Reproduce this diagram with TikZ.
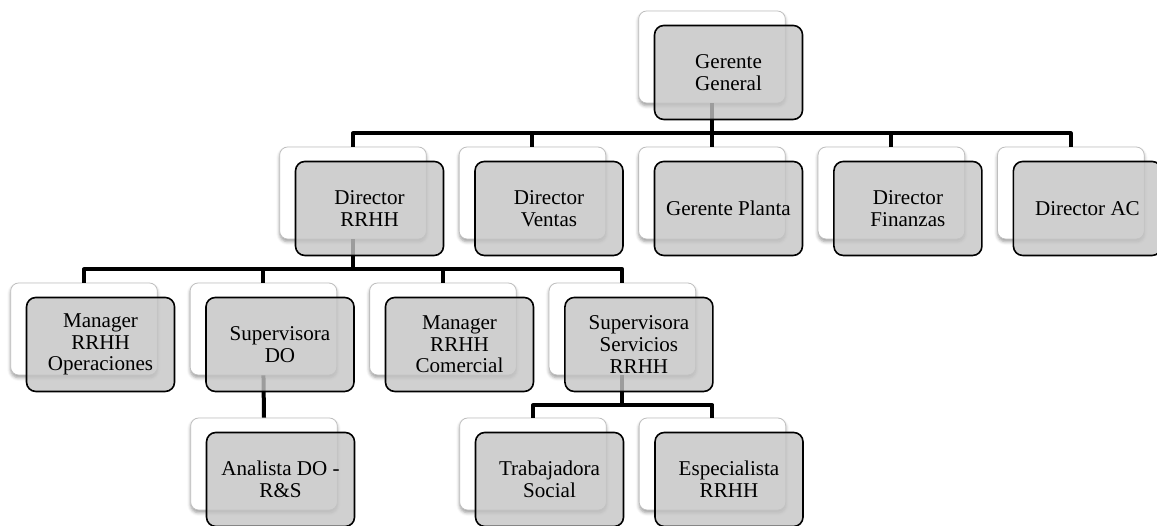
\documentclass[tikz,border=0pt]{standalone}
\usepackage{fontspec}
\setmainfont{Liberation Serif}
\usepackage{tikz}
\usetikzlibrary{shadows.blur}
\usetikzlibrary{positioning}

\begin{document}
\begin{tikzpicture}[x=0.75pt, y=-0.75pt,
        back/.style={rectangle, rounded corners=6pt, draw=black!25, fill=white, line width=0.6pt, minimum width=110pt, minimum height=69pt, blur shadow={shadow xshift=0pt, shadow yshift=-2pt, shadow blur radius=2.5pt, shadow opacity=40}},
        front/.style={rectangle, rounded corners=7pt, draw=black, line width=1.2pt, fill=black!23, fill opacity=0.8, text opacity=1, minimum width=111pt, minimum height=70.5pt, align=center, inner sep=2pt, font=\fontsize{15.8}{16.3}\selectfont},
        link/.style={line width=3pt, line join=round}
      ]
        \useasboundingbox (0,0) rectangle (1157,525);

        % back boxes
        \node[back]  (gg)     at (712,57)  {};
        \node[back]  (rrhh)   at (353,193) {};
        \node[back]  (ventas)   [right=24pt of rrhh]    {};
        \node[back]  (planta)   [right=24pt of ventas]  {};
        \node[back]  (finanzas) [right=24pt of planta]  {};
        \node[back]  (ac)       [right=24pt of finanzas] {};
        \node[back]  (oper)   at (84,329)  {};
        \node[back]  (supdo)     [right=24pt of oper]      {};
        \node[back]  (comercial) [right=24pt of supdo]     {};
        \node[back]  (servicios) [right=24pt of comercial] {};
        \node[back]  (analista)    at (264,464) {};
        \node[back]  (trabajadora) at (533,464) {};
        \node[back]  (especialista) [right=24pt of trabajadora] {};

        % connectors
        \draw[link] (gg.south) -- ++(0,30) -| (rrhh.north);
        \draw[link] (gg.south) -- ++(0,30) -| (ventas.north);
        \draw[link] (gg.south) -- ++(0,30) -| (planta.north);
        \draw[link] (gg.south) -- ++(0,30) -| (finanzas.north);
        \draw[link] (gg.south) -- ++(0,30) -| (ac.north);
        \draw[link] (rrhh.south) -- ++(0,30) -| (oper.north);
        \draw[link] (rrhh.south) -- ++(0,30) -| (supdo.north);
        \draw[link] (rrhh.south) -- ++(0,30) -| (comercial.north);
        \draw[link] (rrhh.south) -- ++(0,30) -| (servicios.north);
        \draw[link] (supdo.south) -- (analista.north);
        \draw[link] (servicios.south) -- ++(0,30) -| (trabajadora.north);
        \draw[link] (servicios.south) -- ++(0,30) -| (especialista.north);

        % front boxes
        \node[front] (ggF)       at ([xshift=12.4pt,yshift=-11.6pt]gg)       {Gerente\\General};
        \node[front] (rrhhF)     at ([xshift=12.4pt,yshift=-11.6pt]rrhh)     {Director\\RRHH};
        \node[front] (ventasF)   at ([xshift=12.4pt,yshift=-11.6pt]ventas)   {Director\\Ventas};
        \node[front] (plantaF)   at ([xshift=12.4pt,yshift=-11.6pt]planta)   {Gerente Planta};
        \node[front] (finanzasF) at ([xshift=12.4pt,yshift=-11.6pt]finanzas) {Director\\Finanzas};
        \node[front] (acF)       at ([xshift=12.4pt,yshift=-11.6pt]ac)       {Director AC};
        \node[front] (operF)      at ([xshift=12.4pt,yshift=-11.6pt]oper)      {Manager\\RRHH\\Operaciones};
        \node[front] (supdoF)     at ([xshift=12.4pt,yshift=-11.6pt]supdo)     {Supervisora\\DO};
        \node[front] (comercialF) at ([xshift=12.4pt,yshift=-11.6pt]comercial) {Manager\\RRHH\\Comercial};
        \node[front] (serviciosF) at ([xshift=12.4pt,yshift=-11.6pt]servicios) {Supervisora\\Servicios\\RRHH};
        \node[front] (analistaF)     at ([xshift=12.4pt,yshift=-11.6pt]analista)     {Analista DO -\\R\&S};
        \node[front] (trabajadoraF)  at ([xshift=12.4pt,yshift=-11.6pt]trabajadora)  {Trabajadora\\Social};
        \node[front] (especialistaF) at ([xshift=12.4pt,yshift=-11.6pt]especialista) {Especialista\\RRHH};
      \end{tikzpicture}
\end{document}
